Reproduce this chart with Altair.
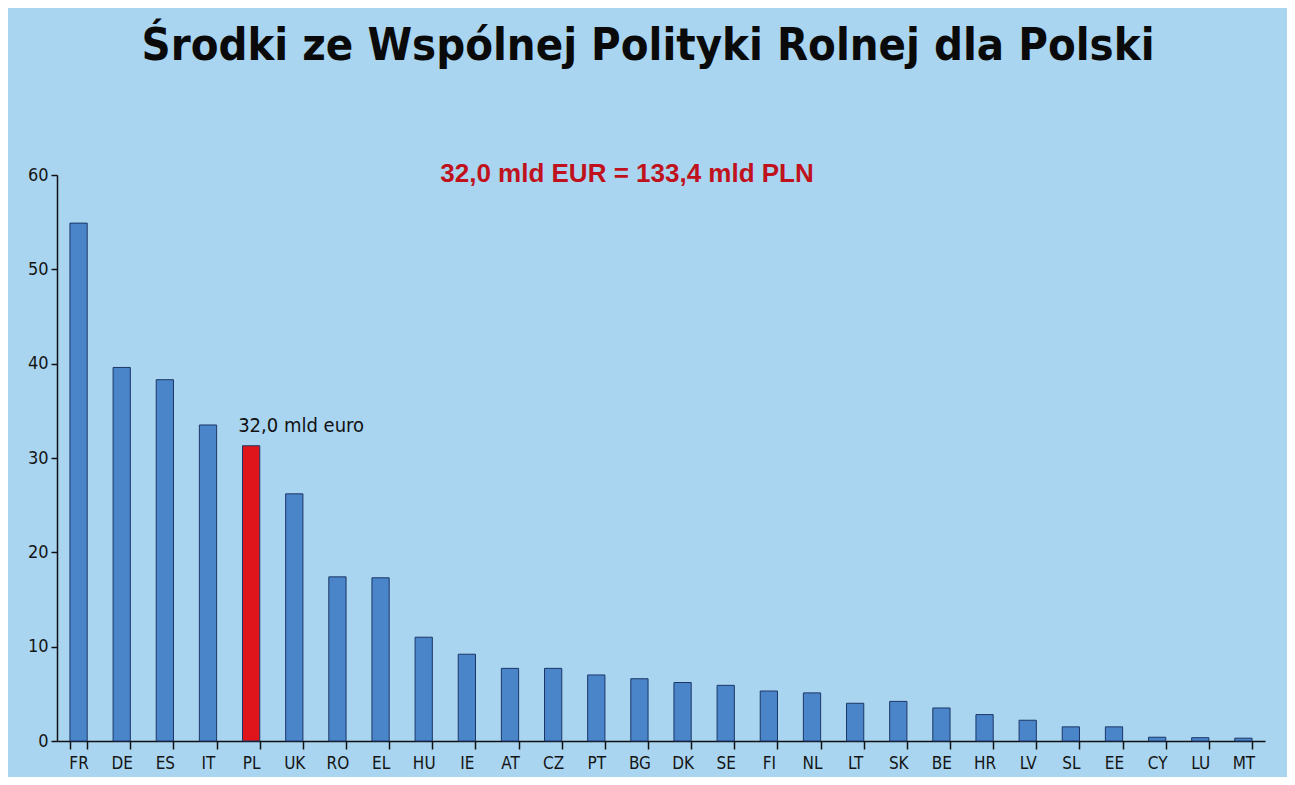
import altair as alt
import pandas as pd

countries = ["FR", "DE", "ES", "IT", "PL", "UK", "RO", "EL", "HU", "IE", "AT", "CZ", "PT", "BG",
             "DK", "SE", "FI", "NL", "LT", "SK", "BE", "HR", "LV", "SL", "EE", "CY", "LU", "MT"]
values = [54.9, 39.6, 38.3, 33.5, 31.3, 26.2, 17.4, 17.3, 11.0, 9.2, 7.7, 7.7, 7.0, 6.6,
          6.2, 5.9, 5.3, 5.1, 4.0, 4.2, 3.5, 2.8, 2.2, 1.5, 1.5, 0.4, 0.35, 0.3]
highlight = "PL"
pl_label = "32,0 mld euro"
headline = "32,0 mld EUR = 133,4 mld PLN"
title_text = "Środki ze Wspólnej Polityki Rolnej dla Polski"
y_ticks = [0, 10, 20, 30, 40, 50, 60]

df = pd.DataFrame({"kraj": countries, "mld": values})
df["grupa"] = ["PL" if c == highlight else "inne" for c in countries]
df["etykieta"] = [pl_label if c == highlight else "" for c in countries]

FONT = "Liberation Sans Narrow, DejaVu Sans Condensed, Roboto Condensed, Liberation Sans, sans-serif"
BG = "#a9d5f1"

x = alt.X(
    "kraj:N", sort=countries,
    scale=alt.Scale(paddingInner=0.6, paddingOuter=0.3),
    axis=alt.Axis(title=None, labelAngle=0, tickBand="extent", tickSize=8,
                  labelFontSize=17, labelFont=FONT, labelColor="#151515",
                  labelPadding=6, domainColor="#111", domainWidth=1.5,
                  tickColor="#111", tickWidth=1.5),
)
y = alt.Y(
    "mld:Q",
    scale=alt.Scale(domain=[0, 60], nice=False),
    axis=alt.Axis(values=y_ticks, title=None, grid=False, tickSize=6,
                  labelFontSize=18, labelFont=FONT, labelColor="#151515",
                  labelPadding=3, domainColor="#111", domainWidth=1.5,
                  tickColor="#111", tickWidth=1.5),
)

base = alt.Chart(df)

bars = base.mark_bar(stroke="#1c3766", strokeWidth=1).encode(
    x=x, y=y,
    color=alt.Color("grupa:N", scale=alt.Scale(domain=["inne", "PL"], range=["#4a85c9", "#e0141b"]),
                    legend=None),
)

pl_text = base.transform_filter(alt.datum.kraj == highlight).mark_text(
    align="left", baseline="alphabetic", dx=-13, dy=-14, fontSize=20, font=FONT, color="#111"
).encode(x=x, y=y, text="etykieta:N")

head = alt.Chart(pd.DataFrame({"t": [headline]})).mark_text(
    align="center", baseline="alphabetic", fontSize=26, fontWeight="bold",
    font="Liberation Sans, Arial, sans-serif", color="#c0121c"
).encode(x=alt.value(570), y=alt.value(7), text="t:N")

chart = alt.layer(bars, pl_text, head).properties(
    width=1208, height=566,
    title=alt.TitleParams(title_text, fontSize=45, fontWeight="bold", font=FONT, color="#0a0a0a",
                          anchor="middle", frame="group", baseline="alphabetic", offset=56, dx=-13),
    autosize=alt.AutoSizeParams(type="none"),
    padding={"left": 49, "top": 167, "right": 22, "bottom": 36},
    background=BG,
).configure_view(stroke=None)

chart.save("out.html", embed_options={"renderer": "svg", "actions": False})
